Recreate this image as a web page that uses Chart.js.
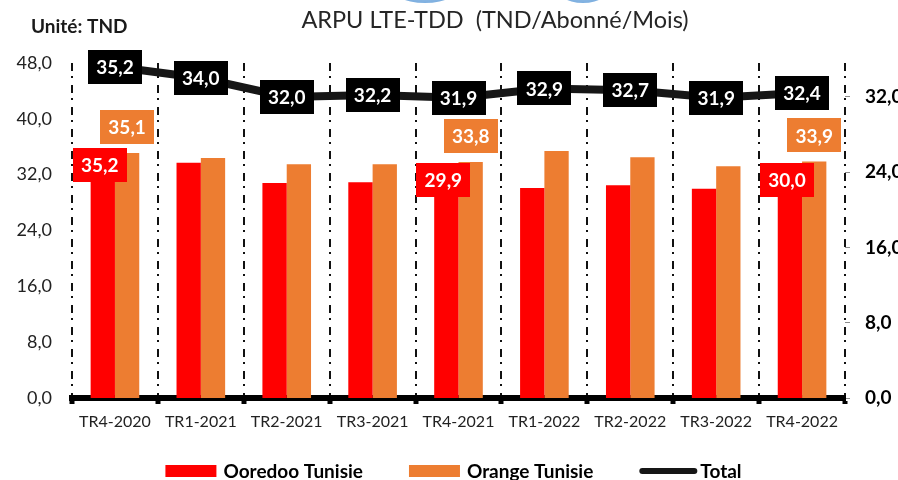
<!DOCTYPE html>
<html>
<head>
<meta charset="utf-8">
<script src="https://cdn.jsdelivr.net/npm/chart.js@4.4.1/dist/chart.umd.min.js"></script>
<style>
  html, body { margin: 0; padding: 0; background: #fff; }
  #wrap { position: relative; width: 898px; height: 480px; overflow: hidden; }
  .blob { position: absolute; border-radius: 50%; background: radial-gradient(ellipse at 50% 30%, #cfe2f5 0%, #7fb0e0 70%, #5b9bd5 100%); }
</style>
</head>
<body>
<div id="wrap">
  <div class="blob" style="left:387px; top:-37px; width:76px; height:40px;"></div>
  <div class="blob" style="left:553px; top:-37px; width:60px; height:40px;"></div>
  <canvas id="arpu"></canvas>
</div>
<script>
const quarters = ['TR4-2020', 'TR1-2021', 'TR2-2021', 'TR3-2021', 'TR4-2021', 'TR1-2022', 'TR2-2022', 'TR3-2022', 'TR4-2022'];
const ooredoo = [35.2, 33.7, 30.8, 30.9, 29.9, 30.1, 30.5, 30.0, 30.0];
const orange = [35.1, 34.4, 33.5, 33.5, 33.8, 35.4, 34.5, 33.2, 33.9];
const total = [35.2, 34.0, 32.0, 32.2, 31.9, 32.9, 32.7, 31.9, 32.4];
const leftTicks = [0, 8, 16, 24, 32, 40, 48];
const rightTicks = [0, 8, 16, 24, 32];
const labelledQuarters = [0, 4, 8];

const FONT = 'Lato, "Open Sans", sans-serif';
const fmt = v => v.toFixed(1).replace('.', ',');

// boîtes de valeurs (pas de plugin datalabels dispo hors ligne)
const valueBoxes = {
    id: 'valueBoxes',
    afterDatasetsDraw(chart, args, opts) {
        const ctx = chart.ctx;
        ctx.save();
        ctx.font = 'bold 19px ' + FONT;
        ctx.textAlign = 'center';
        ctx.textBaseline = 'middle';
        chart.data.datasets.forEach((ds, di) => {
            const cfg = opts.series[di];
            if (!cfg) return;
            chart.getDatasetMeta(di).data.forEach((el, i) => {
                if (cfg.only && !cfg.only.includes(i)) return;
                const dy = (cfg.dyAt && cfg.dyAt[i] !== undefined) ? cfg.dyAt[i] : cfg.dy;
                const x = el.x + cfg.dx, y = el.y + dy;
                ctx.fillStyle = cfg.fill;
                ctx.fillRect(Math.round(x - opts.w / 2), Math.round(y - opts.h / 2), opts.w, opts.h);
                ctx.fillStyle = '#fff';
                ctx.fillText(fmt(ds.data[i]), x, y + 1);
            });
        });
        ctx.restore();
    }
};

// légende dessinée à la main : la légende native ne permet pas ces écarts
const bottomLegend = {
    id: 'bottomLegend',
    afterDraw(chart, args, opts) {
        const ctx = chart.ctx;
        ctx.save();
        ctx.font = 'bold 19px ' + FONT;
        ctx.textBaseline = 'middle';
        ctx.textAlign = 'left';
        const items = chart.data.datasets.map(ds => {
            const isLine = ds.type === 'line';
            return {
                ds, isLine,
                sw: isLine ? 58 : 51,
                gap: isLine ? 3 : 7,
                tw: ctx.measureText(ds.label).width
            };
        });
        const full = items.reduce((s, it) => s + it.sw + it.gap + it.tw, 0) + opts.spacing * (items.length - 1);
        let x = (chart.chartArea.left + chart.chartArea.right) / 2 + opts.shift - full / 2;
        const y = opts.y;
        items.forEach(it => {
            if (it.isLine) {
                ctx.strokeStyle = it.ds.borderColor;
                ctx.lineWidth = 6;
                ctx.lineCap = 'round';
                ctx.beginPath();
                ctx.moveTo(x + 3, y);
                ctx.lineTo(x + it.sw - 3, y);
                ctx.stroke();
            } else {
                ctx.fillStyle = it.ds.backgroundColor;
                ctx.fillRect(x, y - 6, it.sw, 12);
            }
            x += it.sw + it.gap;
            ctx.fillStyle = '#000';
            ctx.fillText(it.ds.label, x, y + 1);
            x += it.tw + opts.spacing;
        });
        ctx.restore();
    }
};

const headerText = {
    id: 'headerText',
    afterDraw(chart) {
        const ctx = chart.ctx;
        ctx.save();
        ctx.textBaseline = 'middle';
        ctx.fillStyle = '#262626';
        ctx.font = '23.5px ' + FONT;
        ctx.textAlign = 'center';
        ctx.fillText('ARPU LTE-TDD  (TND/Abonné/Mois)', 495, 20);
        ctx.fillStyle = '#1a1a1a';
        ctx.font = 'bold 19px ' + FONT;
        ctx.textAlign = 'left';
        ctx.fillText('Unité: TND', 31, 27);
        ctx.restore();
    }
};

const lastIdx = quarters.length;

new Chart(document.getElementById('arpu').getContext('2d'), {
    data: {
        labels: quarters,
        datasets: [
            {
                type: 'bar',
                label: 'Ooredoo Tunisie',
                data: ooredoo,
                backgroundColor: '#FF0000',
                yAxisID: 'y',
                order: 2,
                categoryPercentage: 0.566,
                barPercentage: 1.0
            },
            {
                type: 'bar',
                label: 'Orange Tunisie',
                data: orange,
                backgroundColor: '#ED7D31',
                yAxisID: 'y',
                order: 2,
                categoryPercentage: 0.566,
                barPercentage: 1.0
            },
            {
                type: 'line',
                label: 'Total',
                data: total,
                borderColor: '#161616',
                backgroundColor: '#161616',
                borderWidth: 8,
                pointRadius: 0,
                tension: 0,
                yAxisID: 'y2',
                order: 1
            }
        ]
    },
    plugins: [valueBoxes, headerText, bottomLegend],
    options: {
        responsive: true,
        maintainAspectRatio: false,
        animation: false,
        layout: { padding: { top: 63, left: 9, right: 0, bottom: 47 } },
        plugins: {
            tooltip: { enabled: false },
            title: { display: false },
            legend: { display: false },
            bottomLegend: { y: 471, spacing: 46, shift: -5 },
            valueBoxes: {
                w: 54,
                h: 34,
                series: {
                    0: { fill: '#FF0000', only: labelledQuarters, dx: -3, dy: -9, dyAt: { 0: 13 } },
                    1: { fill: '#ED7D31', only: labelledQuarters, dx: 0, dy: -26 },
                    2: { fill: '#000000', dx: 0, dy: 0 }
                }
            }
        },
        scales: {
            x: {
                offset: true,
                afterFit: s => { s.height = 35; },
                grid: {
                    offset: true,
                    drawOnChartArea: true,
                    color: c => c.index === lastIdx ? '#8c8c8c' : '#111',
                    lineWidth: c => c.index === lastIdx ? 1.5 : 2,
                    tickColor: '#000',
                    tickWidth: 5,
                    tickLength: 6,
                    tickBorderDash: []
                },
                border: {
                    display: true,
                    color: '#000',
                    width: 6,
                    dash: c => c.index === lastIdx ? [6, 3] : [8, 5, 2, 7]
                },
                ticks: {
                    padding: 8,
                    color: '#222',
                    font: { family: FONT, size: 16 }
                }
            },
            y: {
                position: 'left',
                min: 0,
                max: 48,
                afterFit: s => { s.width = 63; },
                afterBuildTicks: s => { s.ticks = leftTicks.map(v => ({ value: v })); },
                grid: { display: false, drawTicks: false },
                border: { display: false },
                ticks: {
                    padding: 20,
                    color: '#222',
                    font: { family: FONT, size: 18 },
                    callback: v => fmt(v)
                }
            },
            y2: {
                position: 'right',
                min: 0,
                max: 35.6,
                afterFit: s => { s.width = 53; },
                afterBuildTicks: s => { s.ticks = rightTicks.map(v => ({ value: v })); },
                grid: {
                    display: true,
                    drawOnChartArea: false,
                    drawTicks: true,
                    tickLength: 5,
                    tickColor: '#8c8c8c',
                    color: '#8c8c8c'
                },
                border: { display: false },
                ticks: {
                    padding: 15,
                    color: '#000',
                    font: { family: FONT, size: 19, weight: 'bold' },
                    callback: v => fmt(v)
                }
            }
        }
    }
});
</script>
</body>
</html>
